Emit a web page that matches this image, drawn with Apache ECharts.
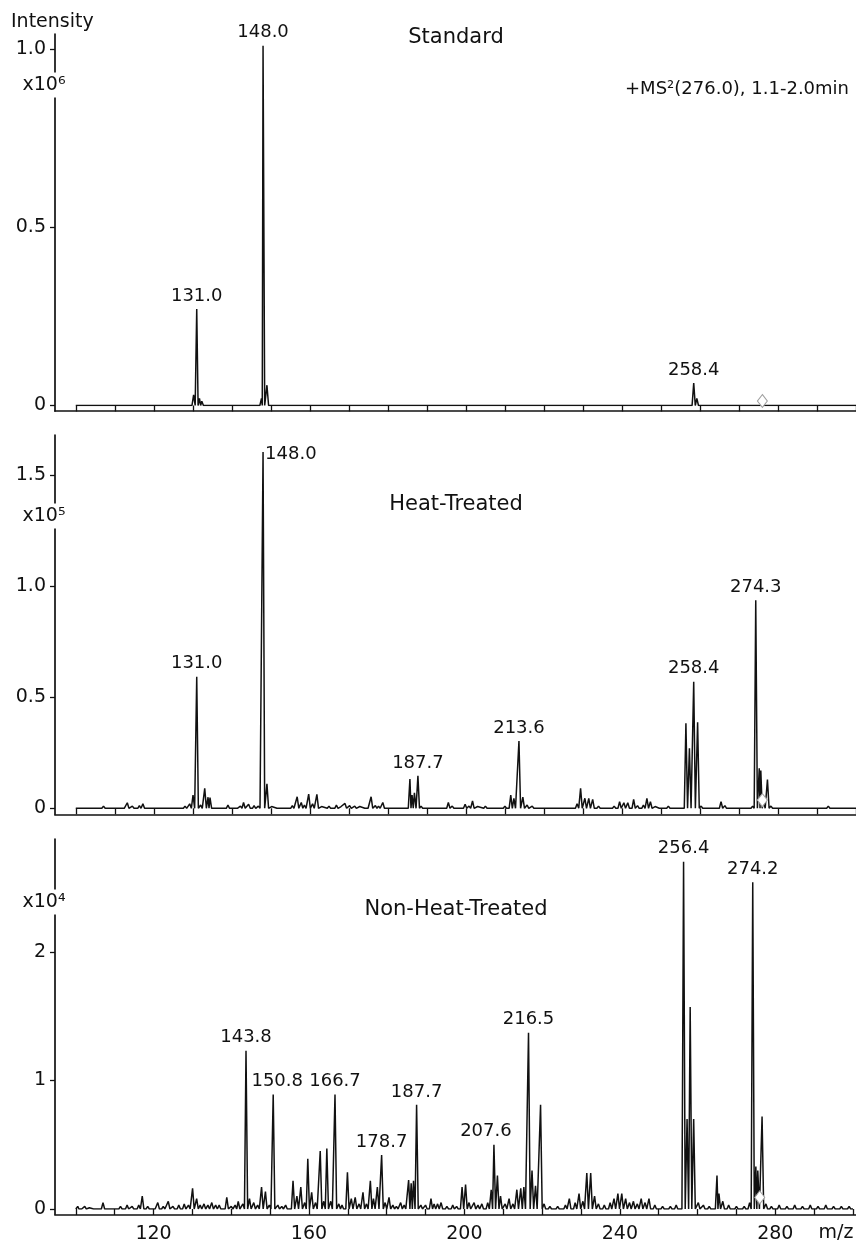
<!DOCTYPE html>
<html>
<head>
<meta charset="utf-8">
<script src="https://cdn.jsdelivr.net/npm/echarts@6/dist/echarts.min.js"></script>
<style>
  html, body { margin: 0; padding: 0; background: #fff; }
  #chart { width: 856px; height: 1245px; }
</style>
</head>
<body>
<div id="chart"></div>
<script>
// ---- Product-ion spectra of m/z 276.0, three samples --------------------
// Each peak list holds [m/z, intensity]; intensity is in units of the
// multiplier printed beside that panel's y axis.

// Standard (x10^6)
const standardPeaks = [
  [102.3, 0.004], [130.2, 0.03], [131.0, 0.271], [131.7, 0.02], [132.3, 0.012],
  [147.6, 0.02], [148.0, 1.01], [149.0, 0.057], [213.5, 0.005], [221.5, 0.004],
  [231.4, 0.004], [258.4, 0.063], [259.2, 0.02], [276.3, 0.004]
];

// Heat-Treated (x10^5)
const heatPeaks = [
  [101.1, 0.008], [102.5, 0.006], [104.0, 0.004], [107.1, 0.010], [110.5, 0.006],
  [112.0, 0.008], [113.2, 0.025], [114.5, 0.010], [116.3, 0.012], [117.2, 0.020],
  [119.1, 0.008], [121.3, 0.008], [124.5, 0.005], [126.5, 0.006], [128.0, 0.010],
  [129.2, 0.020], [130.05, 0.060], [131.0, 0.593], [132.0, 0.015], [133.05, 0.090],
  [133.9, 0.050], [134.4, 0.048], [136.0, 0.006], [139.0, 0.014], [141.0, 0.008],
  [142.2, 0.010], [143.0, 0.026], [144.3, 0.018], [145.7, 0.012], [146.8, 0.010],
  [148.0, 1.605], [149.0, 0.110], [150.2, 0.008], [152.0, 0.006], [154.0, 0.005],
  [155.5, 0.012], [156.75, 0.052], [157.8, 0.026], [158.6, 0.015], [159.7, 0.064],
  [160.7, 0.020], [161.8, 0.063], [163.0, 0.008], [164.9, 0.010], [166.8, 0.014],
  [168.0, 0.008], [169.0, 0.022], [170.2, 0.012], [171.5, 0.010], [172.8, 0.008],
  [174.5, 0.006], [175.7, 0.052], [176.8, 0.012], [177.6, 0.010], [178.7, 0.026],
  [180.5, 0.006], [182.0, 0.005], [184.0, 0.008], [185.65, 0.132], [186.2, 0.060],
  [186.8, 0.070], [187.7, 0.146], [188.5, 0.010], [190.0, 0.008], [192.0, 0.006],
  [193.5, 0.008], [195.5, 0.026], [196.5, 0.010], [198.0, 0.008], [199.8, 0.018],
  [200.8, 0.010], [201.7, 0.033], [203.0, 0.008], [205.0, 0.010], [206.5, 0.008],
  [208.0, 0.006], [210.0, 0.010], [211.5, 0.060], [212.3, 0.045], [213.6, 0.303],
  [214.6, 0.050], [215.7, 0.015], [217.0, 0.010], [219.0, 0.006], [221.0, 0.006],
  [223.0, 0.005], [225.0, 0.006], [227.0, 0.008], [228.5, 0.020], [229.4, 0.090],
  [230.5, 0.045], [231.5, 0.045], [232.5, 0.040], [234.0, 0.010], [236.0, 0.006],
  [238.0, 0.010], [239.4, 0.030], [240.5, 0.025], [241.5, 0.025], [243.0, 0.040],
  [244.0, 0.012], [245.5, 0.015], [246.4, 0.045], [247.3, 0.030], [248.5, 0.008],
  [250.0, 0.006], [251.9, 0.010], [253.5, 0.006], [255.0, 0.008], [256.4, 0.383],
  [257.3, 0.270], [258.4, 0.570], [259.4, 0.387], [260.3, 0.010], [262.0, 0.006],
  [264.0, 0.008], [265.4, 0.030], [266.4, 0.012], [268.0, 0.006], [270.0, 0.005],
  [272.0, 0.006], [273.5, 0.010], [274.3, 0.937], [275.2, 0.180], [275.6, 0.170],
  [276.3, 0.030], [277.3, 0.130], [278.2, 0.010], [280.0, 0.006], [283.0, 0.005],
  [286.0, 0.006], [289.0, 0.005], [292.9, 0.010], [295.0, 0.006], [298.0, 0.005]
];

// Non-Heat-Treated (x10^4)
const nonHeatPeaks = [
  [100.5, 0.02], [101.1, 0.013], [102.3, 0.02], [103.5, 0.01], [105.0, 0.015],
  [107.0, 0.05], [108.5, 0.015], [110.0, 0.01], [111.5, 0.02], [113.2, 0.03],
  [114.5, 0.02], [116.2, 0.03], [117.1, 0.10], [118.5, 0.02], [120.0, 0.015],
  [121.1, 0.05], [122.5, 0.02], [123.8, 0.06], [125.0, 0.02], [126.5, 0.03],
  [127.9, 0.04], [129.0, 0.03], [130.05, 0.16], [131.1, 0.08], [132.0, 0.03],
  [133.0, 0.04], [134.0, 0.03], [135.0, 0.05], [136.0, 0.03], [136.9, 0.03],
  [138.85, 0.09], [140.0, 0.02], [141.0, 0.03], [141.8, 0.06], [143.0, 0.04],
  [143.8, 1.23], [144.7, 0.08], [145.8, 0.05], [146.8, 0.03], [147.8, 0.17],
  [148.8, 0.135], [149.8, 0.03], [150.8, 0.89], [152.0, 0.03], [153.0, 0.02],
  [154.0, 0.03], [155.9, 0.22], [156.9, 0.10], [157.9, 0.17], [158.9, 0.05],
  [159.7, 0.39], [160.7, 0.13], [161.7, 0.05], [162.9, 0.45], [163.8, 0.06],
  [164.6, 0.47], [165.6, 0.06], [166.7, 0.89], [167.7, 0.04], [168.5, 0.03],
  [169.9, 0.285], [170.9, 0.08], [171.9, 0.09], [172.9, 0.04], [173.9, 0.13],
  [174.8, 0.04], [175.8, 0.22], [176.6, 0.08], [177.6, 0.17], [178.7, 0.42],
  [179.6, 0.05], [180.6, 0.09], [181.6, 0.03], [182.5, 0.02], [183.6, 0.05],
  [184.5, 0.03], [185.65, 0.225], [186.3, 0.20], [186.9, 0.22], [187.7, 0.81],
  [188.8, 0.03], [190.0, 0.03], [191.4, 0.08], [192.2, 0.04], [193.1, 0.04],
  [194.0, 0.05], [195.5, 0.02], [197.0, 0.03], [198.0, 0.02], [199.4, 0.17],
  [200.3, 0.19], [201.2, 0.05], [202.5, 0.05], [203.5, 0.03], [204.5, 0.04],
  [206.0, 0.05], [206.9, 0.15], [207.6, 0.50], [208.5, 0.26], [209.3, 0.10],
  [210.5, 0.04], [211.5, 0.08], [212.5, 0.04], [213.5, 0.15], [214.5, 0.16],
  [215.3, 0.17], [216.5, 1.37], [217.4, 0.30], [218.3, 0.18], [219.6, 0.81],
  [220.5, 0.04], [222.0, 0.02], [224.0, 0.02], [226.0, 0.03], [227.0, 0.08],
  [228.5, 0.05], [229.5, 0.12], [230.5, 0.06], [231.5, 0.28], [232.5, 0.28],
  [233.5, 0.10], [234.5, 0.04], [236.0, 0.03], [237.5, 0.05], [238.5, 0.08],
  [239.5, 0.12], [240.5, 0.12], [241.5, 0.08], [242.5, 0.05], [243.5, 0.06],
  [244.5, 0.04], [245.5, 0.08], [246.5, 0.05], [247.5, 0.08], [249.0, 0.03],
  [251.0, 0.02], [253.0, 0.02], [254.5, 0.03], [256.4, 2.70], [257.3, 0.70],
  [258.1, 1.57], [259.0, 0.70], [260.2, 0.05], [261.5, 0.03], [263.0, 0.02],
  [265.0, 0.26], [265.5, 0.12], [266.5, 0.06], [268.0, 0.03], [270.0, 0.02],
  [272.0, 0.02], [273.4, 0.05], [274.2, 2.54], [275.0, 0.33], [275.5, 0.30],
  [276.6, 0.72], [277.6, 0.04], [279.0, 0.02], [281.0, 0.03], [283.0, 0.02],
  [285.0, 0.03], [287.0, 0.02], [289.0, 0.03], [291.0, 0.02], [293.0, 0.03],
  [295.0, 0.02], [297.0, 0.02], [299.0, 0.02]
];

// annotated peaks (m/z) per panel
const standardLabels = [131.0, 148.0, 258.4];
const heatLabels = [131.0, 148.0, 187.7, 213.6, 258.4, 274.3];
const nonHeatLabels = [143.8, 150.8, 166.7, 178.7, 187.7, 207.6, 216.5, 256.4, 274.2];

// precursor marker
const precursorMz = 276.0;
const precursorMarkY = [0.0126, 0.037, 0.09];

// panel texts and y ticks
const panelTitles = ['Standard', 'Heat-Treated', 'Non-Heat-Treated'];
const panelMultipliers = ['x10\u2076', 'x10\u2075', 'x10\u2074'];
const yTickValues = [[0, 0.5, 1.0], [0, 0.5, 1.0, 1.5], [0, 1, 2]];
const yTickLabels = [['0', '0.5', '1.0'], ['0', '0.5', '1.0', '1.5'], ['0', '1', '2']];
const xLabelValues = [120, 160, 200, 240, 280];
const scanInfo = '+MS\u00b2(276.0), 1.1-2.0min';

// ---- drawing ------------------------------------------------------------
const FONT = '"DejaVu Sans", Verdana, sans-serif';
const INK = '#111111';
const X_MIN = 100, X_MAX = 300;
const PLOT_LEFT = 75.8, PLOT_WIDTH = 782, AXIS_LEFT = 55;

// vertical placement of each panel (pixels)
const layout = [
  { top: 34,  zero: 405.5, axis: 411,   yMax: 1.043, multY: 85,  titleY: 38 },
  { top: 435, zero: 808.3, axis: 814.3, yMax: 1.6815, multY: 516, titleY: 505 },
  { top: 839, zero: 1209,  axis: 1214.3, yMax: 2.877, multY: 902, titleY: 910 }
];

const peakSets = [standardPeaks, heatPeaks, nonHeatPeaks];
const labelSets = [standardLabels, heatLabels, nonHeatLabels];

// narrow triangular peak shapes joined by a zero baseline
function profile(peaks, halfW) {
  const s = peaks.slice().sort((a, b) => a[0] - b[0]);
  const pts = [[X_MIN, 0]];
  for (let i = 0; i < s.length; i++) {
    const m = s[i][0], h = s[i][1];
    const prev = i > 0 ? s[i - 1][0] : -Infinity;
    const next = i < s.length - 1 ? s[i + 1][0] : Infinity;
    const l = Math.max(m - halfW, (prev + m) / 2);
    const r = Math.min(m + halfW, (m + next) / 2);
    if (pts[pts.length - 1][0] < l) pts.push([l, 0]);
    pts.push([m, h]);
    pts.push([r, 0]);
  }
  pts.push([X_MAX, 0]);
  return pts;
}

function heightAt(peaks, mz) {
  const p = peaks.find(q => Math.abs(q[0] - mz) < 0.01);
  return p ? p[1] : 0;
}

// label placement tweaks for crowded spots
const labelTweak = {
  '1-148': { position: 'right', distance: 2, offset: [0, 2] },
  '2-151': { offset: [4, 0] },
  '2-208': { offset: [-8, 0] }
};

const grids = [], xAxes = [], yAxes = [], series = [], graphics = [];

layout.forEach((L, i) => {
  // frame: axis lines that run past the data range
  grids.push({ left: AXIS_LEFT, width: 856 - AXIS_LEFT, top: L.top, height: L.axis - L.top });
  xAxes.push({
    gridIndex: i, type: 'value', min: 0, max: 1,
    axisLine: { show: true, lineStyle: { color: INK, width: 1.7 } },
    axisTick: { show: false }, axisLabel: { show: false }, splitLine: { show: false }
  });
  yAxes.push({
    gridIndex: i, type: 'value', min: 0, max: 1,
    axisLine: { show: true, lineStyle: { color: INK, width: 1.7 } },
    axisTick: { show: false }, axisLabel: { show: false }, splitLine: { show: false }
  });
});

layout.forEach((L, i) => {
  const g = 3 + i;
  grids.push({ left: PLOT_LEFT, width: PLOT_WIDTH, top: L.top, height: L.zero - L.top });
  xAxes.push({
    gridIndex: g, type: 'value', min: X_MIN, max: X_MAX, interval: 10,
    offset: L.axis - L.zero,
    axisLine: { show: false },
    axisTick: { show: true, length: 6, lineStyle: { color: INK, width: 1.3 } },
    axisLabel: {
      show: i === 2, margin: 10, fontSize: 19, fontFamily: FONT, color: INK,
      formatter: v => (xLabelValues.indexOf(v) >= 0 ? String(v) : '')
    },
    splitLine: { show: false }
  });
  yAxes.push({
    gridIndex: g, type: 'value', min: 0, max: L.yMax,
    offset: PLOT_LEFT - AXIS_LEFT,
    axisLine: { show: false },
    axisTick: { show: true, length: 5, customValues: yTickValues[i], lineStyle: { color: INK, width: 1.3 } },
    axisLabel: {
      margin: 9, fontSize: 19, fontFamily: FONT, color: INK,
      customValues: yTickValues[i],
      formatter: v => {
        const k = yTickValues[i].findIndex(t => Math.abs(t - v) < 1e-9);
        return k >= 0 ? yTickLabels[i][k] : '';
      }
    },
    splitLine: { show: false }
  });

  series.push({
    type: 'line', xAxisIndex: g, yAxisIndex: g,
    data: profile(peakSets[i], 0.42),
    symbol: 'none', showSymbol: false, animation: false, z: 3,
    lineStyle: { color: INK, width: 1.5 }
  });

  series.push({
    type: 'scatter', xAxisIndex: g, yAxisIndex: g, symbolSize: 0, silent: true,
    animation: false, clip: false, z: 4,
    itemStyle: { opacity: 1, color: INK },
    label: {
      show: true, position: 'top', distance: 4, fontSize: 18, fontFamily: FONT, color: INK, opacity: 1,
      formatter: p => p.value[0].toFixed(1)
    },
    data: labelSets[i].map(m => {
      const item = { value: [m, heightAt(peakSets[i], m)] };
      const tw = labelTweak[i + '-' + Math.round(m)];
      if (tw) item.label = tw;
      return item;
    })
  });

  series.push({
    type: 'scatter', xAxisIndex: g, yAxisIndex: g, symbol: 'diamond', symbolSize: [10, 13],
    animation: false, z: 5, silent: true,
    itemStyle: { color: '#ffffff', borderColor: '#a0a0a0', borderWidth: 1, opacity: 1 },
    data: [[precursorMz, precursorMarkY[i]]]
  });

  graphics.push({
    type: 'text', x: 456, y: L.titleY, z: 100,
    style: { text: panelTitles[i], font: '21px ' + FONT, fill: INK, align: 'center', verticalAlign: 'middle' }
  });
  graphics.push({
    type: 'text', x: 44, y: L.multY, z: 100,
    style: {
      text: panelMultipliers[i], font: '19px ' + FONT, fill: INK, align: 'center', verticalAlign: 'middle',
      backgroundColor: '#ffffff', padding: [3, 0, 3, 0]
    }
  });
});

graphics.push({
  type: 'text', x: 11, y: 22, z: 100,
  style: { text: 'Intensity', font: '19px ' + FONT, fill: INK, align: 'left', verticalAlign: 'middle' }
});
graphics.push({
  type: 'text', x: 849, y: 89, z: 100,
  style: { text: scanInfo, font: '18px ' + FONT, fill: INK, align: 'right', verticalAlign: 'middle' }
});
graphics.push({
  type: 'text', x: 836, y: 1233, z: 100,
  style: { text: 'm/z', font: '19px ' + FONT, fill: INK, align: 'center', verticalAlign: 'middle' }
});

const chart = echarts.init(document.getElementById('chart'), null, { renderer: 'canvas' });
chart.setOption({
  animation: false,
  backgroundColor: '#ffffff',
  grid: grids,
  xAxis: xAxes,
  yAxis: yAxes,
  series: series,
  graphic: graphics
});
</script>
</body>
</html>
